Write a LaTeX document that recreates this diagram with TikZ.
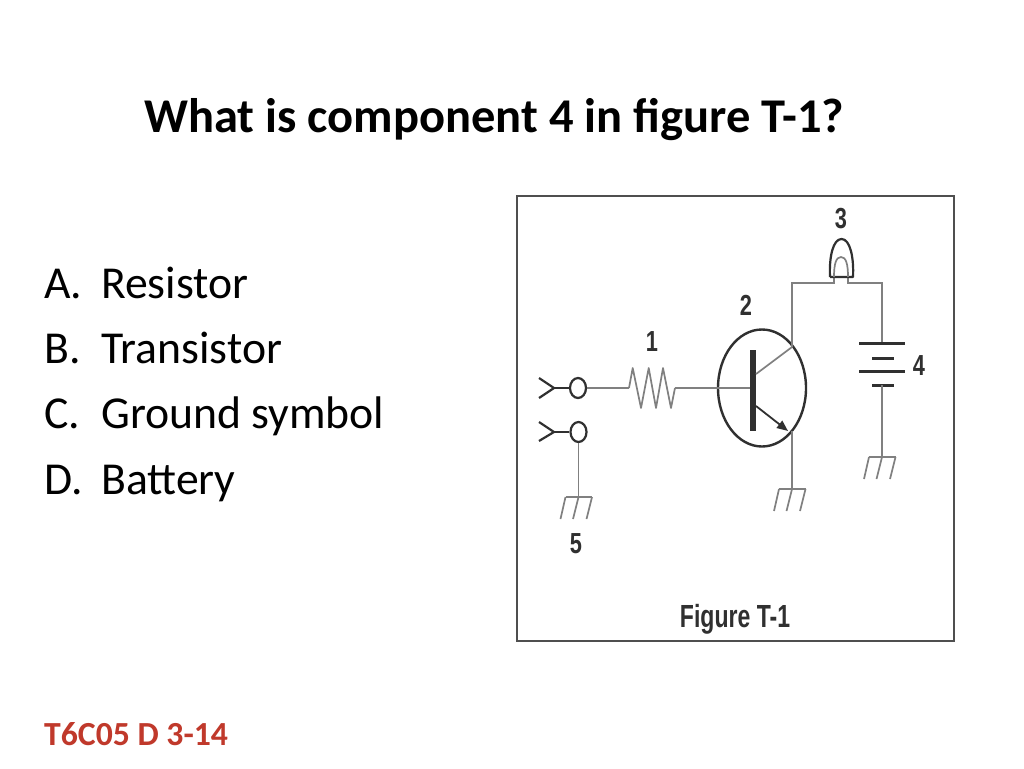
\documentclass[tikz,border=0pt]{standalone}
\usepackage{fontspec}
\setmainfont{Carlito}
\newfontfamily\figfont{Liberation Sans}
\usetikzlibrary{arrows.meta,shapes.geometric}
\definecolor{footred}{HTML}{C0392B}
\definecolor{wiregray}{HTML}{808080}
\definecolor{inkgray}{HTML}{303030}
\tikzset{
  wire/.style={draw=wiregray,line width=1.7pt},
  ink/.style={draw=inkgray,line width=2.2pt},
  plate/.style={draw=inkgray,line width=3pt},
  jack/.style={draw=inkgray,line width=2.2pt,ellipse,minimum width=16pt,minimum height=20pt,inner sep=0pt,fill=white},
  num/.style={font=\figfont\bfseries\fontsize{29}{29}\selectfont,text=inkgray,inner sep=0pt,xscale=.75,transform shape},
  answer/.style={font=\fontsize{45.7}{46}\selectfont,anchor=base west,inner sep=0pt},
}
\newcommand{\groundsym}[3]{% x, y, name
  \coordinate (#3) at (#1,#2);
  \draw[wire] (#1-13,#2) -- (#1+13.5,#2);
  \draw[wire] (#1-13,#2) -- (#1-18,#2+22);
  \draw[wire] (#1,#2) -- (#1-5.5,#2+22);
  \draw[wire] (#1+13.5,#2) -- (#1+8,#2+22);
}
\begin{document}
\begin{tikzpicture}[x=1pt,y=-1pt]
\useasboundingbox (0,0) rectangle (1024,768);
\fill[white] (0,0) rectangle (1024,768);
\node[font=\bfseries\fontsize{48.5}{48}\selectfont,anchor=base west,inner sep=0pt] (title) at (144,132) {What is component 4 in figure T-1?};
\node[answer] (a1) at (44,298) {A.}; \node[answer] (a2) at (101,298) {Resistor};
\node[answer] (b1) at (44,363) {B.}; \node[answer] (b2) at (101,363) {Transistor};
\node[answer] (c1) at (44,428) {C.}; \node[answer] (c2) at (101,428) {Ground symbol};
\node[answer] (d1) at (44,494) {D.}; \node[answer] (d2) at (101,494) {Battery};
\node[font=\bfseries\fontsize{33.7}{34}\selectfont,text=footred,anchor=base west,inner sep=0pt] (foot) at (44,745) {T6C05 D 3-14};
\draw[draw=inkgray!85,line width=1.5pt] (517,196) rectangle (954,641);
% jacks
\node[jack] (j1) at (578,388) {};
\node[jack] (j2) at (578.5,432) {};
\coordinate (t1) at (554,388); \coordinate (t2) at (554,432);
\draw[ink,line join=round] (539,378) -- (t1) -- (539,398);
\draw[ink,line join=round] (539,422) -- (t2) -- (539,441);
\draw[ink] (t1) -- (j1); \draw[ink] (t2) -- (j2);
% resistor
\coordinate (r1) at (629,388); \coordinate (r2) at (675,388);
\draw[wire] (j1) -- (r1);
\draw[wire,line join=round] (r1) -- (632.7,368) -- (641,408) -- (648.7,368) -- (656,408) -- (663,368) -- (671,408) -- (r2);
% transistor
\node[draw=inkgray,line width=2.4pt,ellipse,minimum width=88pt,minimum height=117pt,inner sep=0pt] (q) at (762,388) {};
\coordinate (bb) at (753,388);
\draw[wire] (r2) -- (bb);
\draw[draw=inkgray,line width=5.5pt] (753,350) -- (753,431);
\coordinate (c) at (792,347);
\coordinate (e) at (788,431);
\coordinate (e2) at (792,431);
\draw[wire] (756,374) -- (c);
\draw[draw=inkgray,line width=1.8pt,-{Triangle[length=11pt,width=9pt]}] (756,406) -- (e);
% lamp
\coordinate (lampL) at (834,283); \coordinate (lampR) at (848,283);
\coordinate (top1) at (792,283); \coordinate (top2) at (882,283);
\draw[wire] (c) -- (top1) -- (lampL) -- (834,277);
\draw[wire] (848,277) -- (lampR) -- (top2) -- (882,343);
\draw[ink,line join=round] (830,277) -- (853,277) .. controls (854,257) and (850,239) .. (841.5,239) .. controls (833,239) and (829,257) .. (830,277);
\draw[draw=wiregray,line width=1.7pt] (834,277) .. controls (834,264) and (836,257) .. (841,257) .. controls (846,257) and (848,264) .. (848,277);
% battery
\draw[plate] (859,343) -- (905,343);
\draw[plate] (872,358) -- (894,358);
\draw[plate] (859,371) -- (905,371);
\draw[plate] (872,385) -- (894,385);
\coordinate (batb) at (882,385);
% grounds
\groundsym{882}{457}{g3}
\draw[wire] (batb) -- (g3);
\groundsym{792}{489}{g2}
\draw[wire] (e2) -- (g2);
\groundsym{578.5}{497}{g1}
\draw[wire] (j2) -- (g1);
% labels
\node[num] (n1) at (652,342) {1};
\node[num] (n2) at (746,305) {2};
\node[num] (n3) at (841,219) {3};
\node[num] (n4) at (919,366) {4};
\node[num] (n5) at (576,544) {5};
\node[font=\figfont\bfseries\fontsize{32}{32}\selectfont,text=inkgray,inner sep=0pt,anchor=base,xscale=.72,transform shape] (figlabel) at (735,627) {Figure T-1};
\end{tikzpicture}
\end{document}
